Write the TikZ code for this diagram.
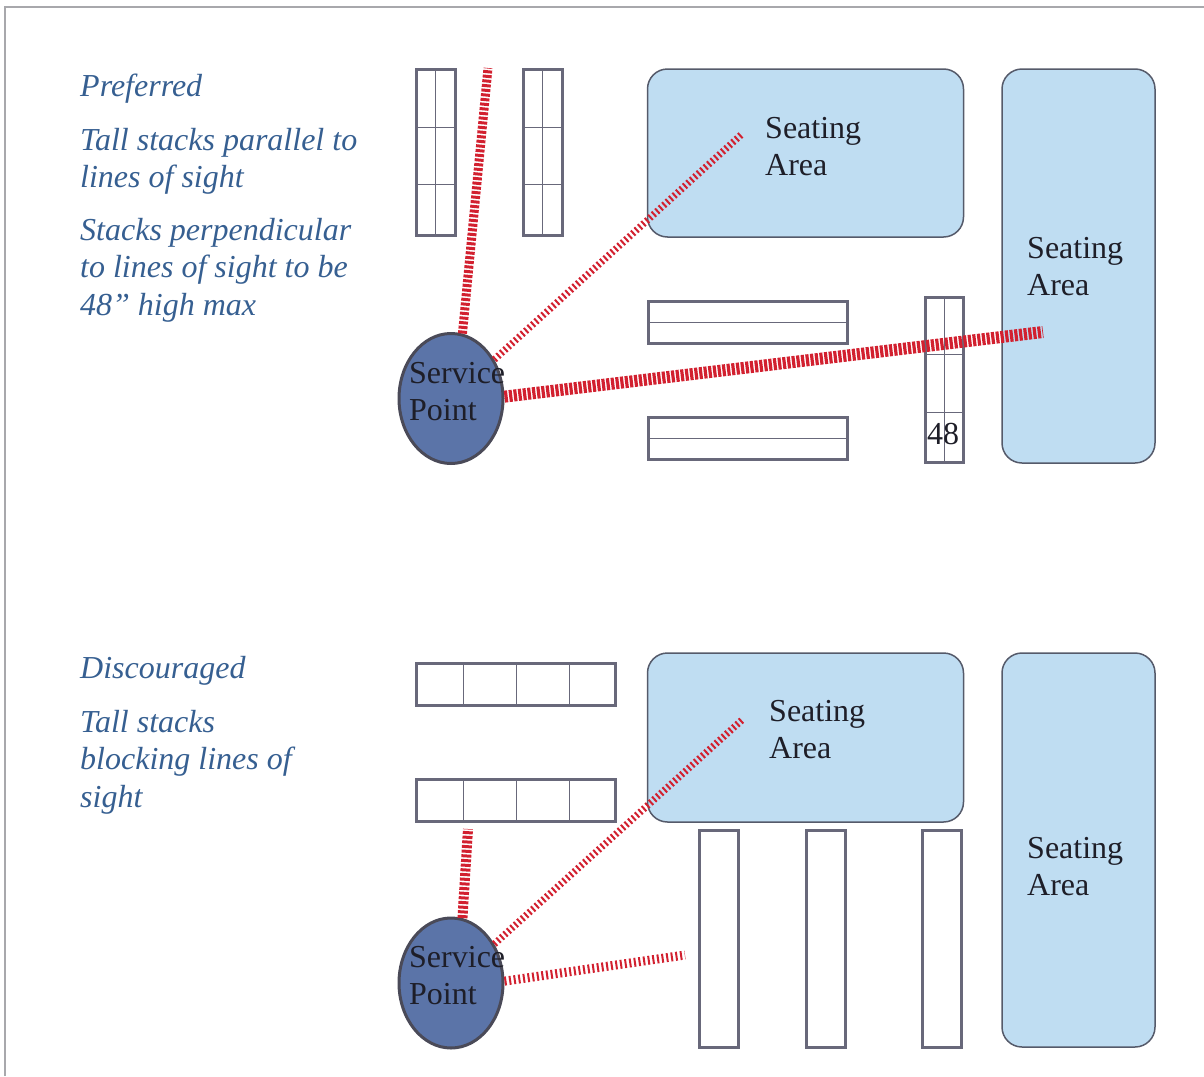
\documentclass[tikz,border=0pt]{standalone}
\usepackage{fontspec}
\setmainfont{Liberation Serif}
\usepackage{xcolor}
\definecolor{stackgray}{HTML}{68687A}
\definecolor{seatblue}{HTML}{BFDDF2}
\definecolor{seatedge}{HTML}{555A6A}
\definecolor{pointblue}{HTML}{5B74A8}
\definecolor{pointedge}{HTML}{4A4A58}
\definecolor{sightred}{HTML}{D2202F}
\definecolor{noteblue}{HTML}{365F91}
\definecolor{inktext}{HTML}{1E1E28}
\definecolor{framegray}{HTML}{A8A8AC}
\tikzset{
  stackbox/.style={rectangle, draw=stackgray, line width=3pt, inner sep=0pt},
  stackline/.style={draw=stackgray, line width=1pt},
  seatbox/.style={rectangle, rounded corners=20pt, draw=seatedge, fill=seatblue, line width=1.5pt, inner sep=0pt},
  seatlabel/.style={align=left, anchor=north west, inner sep=0pt, font=\fontsize{32}{37}\selectfont, text=inktext},
  pointnode/.style={ellipse, draw=pointedge, fill=pointblue, line width=3pt, minimum width=104pt, minimum height=130pt, inner sep=0pt},
  sightline/.style={draw=sightred, dash pattern=on 2pt off 2.67pt},
  note/.style={align=left, anchor=north west, inner sep=0pt, font=\fontsize{32}{37.5}\selectfont\itshape, text=noteblue}
}
\usetikzlibrary{shapes.geometric}

\begin{document}
\begin{tikzpicture}[x=1pt, y=-1pt]
        \useasboundingbox (0,0) rectangle (1204,1076);
        % Frame
        \coordinate (f1) at (5,1076);
        \coordinate (f2) at (5,7);
        \coordinate (f3) at (1204,7);
        \draw[framegray, line width=1.5pt] (f1) -- (f2) -- (f3);

        % Notes
        \node[note] (n1) at (80,74) {Preferred};
        \node[note] (n2) at (80,128) {Tall stacks parallel to\\lines of sight};
        \node[note] (n3) at (80,218) {Stacks perpendicular\\to lines of sight to be\\48” high max};
        \node[note] (n4) at (80,656) {Discouraged};
        \node[note] (n5) at (80,710) {Tall stacks\\blocking lines of\\sight};

        % Upper plan: seating
        \node[seatbox, minimum width=316pt, minimum height=168pt] (a1) at (805.5,153) {};
        \node[seatbox, minimum width=153pt, minimum height=394pt] (a2) at (1078.5,266) {};
        \node[seatlabel] (a1t) at (765,117) {Seating\\Area};
        \node[seatlabel] (a2t) at (1027,237) {Seating\\Area};

        % Upper plan: stacks
        \node[stackbox, minimum width=39pt, minimum height=166pt] (s1) at (435.5,152) {};
        \node[stackbox, minimum width=39pt, minimum height=166pt] (s2) at (542.5,152) {};
        \node[stackbox, minimum width=199pt, minimum height=42pt] (s3) at (747.5,322) {};
        \node[stackbox, minimum width=199pt, minimum height=42pt] (s4) at (747.5,438) {};
        \node[stackbox, minimum width=38pt, minimum height=165pt] (s5) at (944,379.5) {};
        \draw[stackline] (435.5,69) -- (435.5,235);
        \draw[stackline] (416,127) -- (455,127);
        \draw[stackline] (416,184) -- (455,184);
        \draw[stackline] (542.5,69) -- (542.5,235);
        \draw[stackline] (523,127) -- (562,127);
        \draw[stackline] (523,184) -- (562,184);
        \draw[stackline] (648,322) -- (847,322);
        \draw[stackline] (648,438) -- (847,438);
        \draw[stackline] (944,299) -- (944,464);
        \draw[stackline] (925,354) -- (963,354);
        \draw[stackline] (925,412) -- (963,412);
        \node[seatlabel] (s5t) at (927,423) {48};

        % Upper plan: service point
        \node[pointnode] (p1) at (451,398.5) {};
        \node[seatlabel] (p1t) at (409,362) {Service\\Point};

        % Upper plan: lines of sight
        \coordinate (e1) at (488,68);
        \coordinate (e2) at (742,134);
        \coordinate (e3) at (1043,332);
        \draw[sightline, line width=9pt, dash pattern=on 3pt off 1.67pt] (p1.80) -- (e1);
        \draw[sightline, line width=7pt] (p1.42) -- (e2);
        \draw[sightline, line width=12pt, dash pattern=on 3.2pt off 1.47pt] (p1.2) -- (e3);

        % Lower plan: seating
        \node[seatbox, minimum width=316pt, minimum height=169pt] (b1) at (805.5,737.5) {};
        \node[seatbox, minimum width=153pt, minimum height=394pt] (b2) at (1078.5,850) {};
        \node[seatlabel] (b1t) at (769,700) {Seating\\Area};
        \node[seatlabel] (b2t) at (1027,837) {Seating\\Area};

        % Lower plan: stacks
        \node[stackbox, minimum width=199pt, minimum height=42pt] (t1) at (515.5,684) {};
        \node[stackbox, minimum width=199pt, minimum height=42pt] (t2) at (515.5,800) {};
        \node[stackbox, minimum width=39pt, minimum height=217pt] (t3) at (718.5,938.5) {};
        \node[stackbox, minimum width=39pt, minimum height=217pt] (t4) at (825.5,938.5) {};
        \node[stackbox, minimum width=39pt, minimum height=217pt] (t5) at (941.5,938.5) {};
        \foreach \xpos in {463,516,569} {
          \draw[stackline] (\xpos,663) -- (\xpos,705);
          \draw[stackline] (\xpos,779) -- (\xpos,821);
        }

        % Lower plan: service point
        \node[pointnode] (p2) at (451,983) {};
        \node[seatlabel] (p2t) at (409,946) {Service\\Point};

        % Lower plan: lines of sight
        \coordinate (g1) at (468,829);
        \coordinate (g2) at (742,720);
        \coordinate (g3) at (685,955);
        \draw[sightline, line width=10pt, dash pattern=on 3pt off 1.67pt] (p2.80) -- (g1);
        \draw[sightline, line width=7pt] (p2.42) -- (g2);
        \draw[sightline, line width=9pt] (p2.2) -- (g3);
    \end{tikzpicture}
\end{document}
